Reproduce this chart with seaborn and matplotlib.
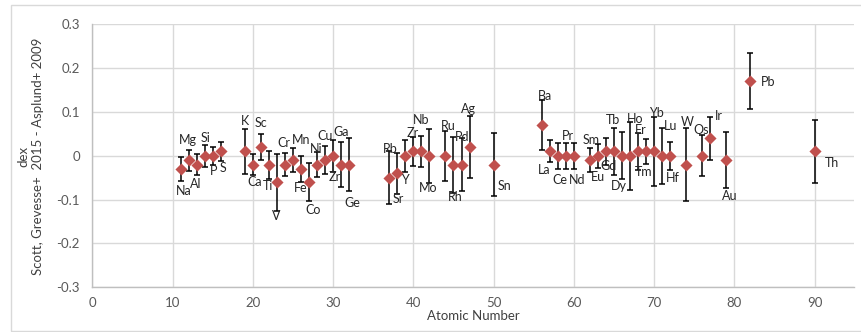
import matplotlib
matplotlib.use("Agg")
import matplotlib.pyplot as plt
import matplotlib.patches as mpatches
import seaborn as sns
import pandas as pd

# ---- data ----
elements = ["Na", "Mg", "Al", "Si", "P", "S", "K", "Ca", "Sc", "Ti", "V", "Cr", "Mn", "Fe", "Co",
            "Ni", "Cu", "Zr", "Ga", "Ge", "Rb", "Sr", "Y", "Zr", "Nb", "Mo", "Ru", "Rh", "Pd", "Ag",
            "Sn", "Ba", "La", "Ce", "Pr", "Nd", "Sm", "Eu", "Gd", "Tb", "Dy", "Ho", "Er", "Tm", "Yb",
            "Lu", "Hf", "W", "Os", "Ir", "Au", "Pb", "Th"]
atomic_number = [11, 12, 13, 14, 15, 16, 19, 20, 21, 22, 23, 24, 25, 26, 27,
                 28, 29, 30, 31, 32, 37, 38, 39, 40, 41, 42, 44, 45, 46, 47,
                 50, 56, 57, 58, 59, 60, 62, 63, 64, 65, 66, 67, 68, 69, 70,
                 71, 72, 74, 76, 77, 79, 82, 90]
difference = [-0.03, -0.01, -0.02, 0.00, 0.00, 0.01, 0.01, -0.02, 0.02, -0.02, -0.06, -0.02, -0.01, -0.03, -0.06,
              -0.02, -0.01, 0.00, -0.02, -0.02, -0.05, -0.04, 0.00, 0.01, 0.01, 0.00, 0.00, -0.02, -0.02, 0.02,
              -0.02, 0.07, 0.01, 0.00, 0.00, 0.00, -0.01, 0.00, 0.01, 0.01, 0.00, 0.00, 0.01, 0.01, 0.01,
              0.00, 0.00, -0.02, 0.00, 0.04, -0.01, 0.17, 0.01]
uncertainty = [0.027, 0.024, 0.024, 0.025, 0.021, 0.022, 0.051, 0.024, 0.029, 0.032, 0.065, 0.026, 0.028, 0.029, 0.044,
               0.029, 0.032, 0.036, 0.052, 0.061, 0.061, 0.047, 0.036, 0.034, 0.035, 0.061, 0.057, 0.064, 0.061, 0.071,
               0.071, 0.057, 0.025, 0.029, 0.029, 0.029, 0.028, 0.027, 0.030, 0.053, 0.054, 0.077, 0.042, 0.029, 0.079,
               0.064, 0.032, 0.083, 0.047, 0.049, 0.064, 0.064, 0.072]
x_ticks = [0, 10, 20, 30, 40, 50, 60, 70, 80, 90]
y_ticks = [-0.3, -0.2, -0.1, 0, 0.1, 0.2, 0.3]
y_tick_labels = ["-0.3", "-0.2", "-0.1", "0", "0.1", "0.2", "0.3"]

# label offsets (pixels, screen: dx right, dy down)
label_offsets = [(3, 22), (-1, -20), (-1, 19), (1, -18), (1, 15), (2, 17), (0, -30), (2, 17), (0, -24), (-1, 21),
                 (-1, 34), (-1, -22), (8, -20), (0, 19), (4, 28), (-1, -16), (0, -24), (2, 21), (0, -33), (3, 38),
                 (1, -29), (1, 26), (0, 24), (-1, -18), (0, -31), (-1, 32), (3, -30), (2, 32), (1, -28), (-1, -38),
                 (11, 21), (3, -29), (-6, 19), (2, 24), (2, -20), (3, 24), (1, -20), (0, 21), (3, 15), (-1, -31),
                 (-3, 30), (5, -37), (3, -21), (-2, 21), (2, -38), (8, -30), (3, 22), (1, -43), (-1, -26), (9, -22),
                 (3, 36), (18, 1), (17, 12)]

df = pd.DataFrame({"Z": atomic_number, "diff": difference, "err": uncertainty, "el": elements})

sns.set_theme(style="white")
plt.rcParams["font.family"] = ["Lato", "DejaVu Sans"]

fig = plt.figure(figsize=(8.61, 3.32), dpi=100)
ax = fig.add_axes([92.3 / 861, 1 - 287.3 / 332, (854 - 92.3) / 861, (287.3 - 24.3) / 332])

red = "#C0504D"
ax.errorbar(df["Z"], df["diff"], yerr=df["err"], fmt="none", ecolor="black",
            elinewidth=1.1, capsize=2.0, capthick=1.1, zorder=2)
sns.scatterplot(data=df, x="Z", y="diff", marker="D", s=38, color=red,
                edgecolor=red, linewidth=0, ax=ax, zorder=3)

for z, d, el, (dx, dy) in zip(atomic_number, difference, elements, label_offsets):
    ax.annotate(el, (z, d), xytext=(dx, -dy), textcoords="offset pixels",
                ha="center", va="center", fontsize=9, color="#262626", zorder=4)

ax.set_xlim(0, 94.9)
ax.set_ylim(-0.3, 0.3)
ax.set_xticks(x_ticks)
ax.set_yticks(y_ticks)
ax.set_yticklabels(y_tick_labels)
ax.grid(True, color="#D9D9D9", linewidth=1)
ax.set_axisbelow(True)
for s in ["top", "right"]:
    ax.spines[s].set_visible(False)
for s in ["left", "bottom"]:
    ax.spines[s].set_color("#BFBFBF")
    ax.spines[s].set_linewidth(1)
ax.tick_params(axis="both", length=0, labelsize=9.5, colors="#595959")
ax.tick_params(axis="x", pad=7)
ax.tick_params(axis="y", pad=9)
ax.set_xlabel("Atomic Number", fontsize=9.5, color="#404040", labelpad=1)
ax.set_ylabel("")
fig.text(31 / 861, 1 - 156 / 332, "dex\nScott, Grevesse+  2015 - Asplund+ 2009",
         rotation=90, ha="center", va="center", fontsize=9.5, color="#404040",
         multialignment="center", linespacing=1.25)

fig.patches.append(mpatches.Rectangle((11 / 861, 1 / 332), 1.5, 1 - 5.5 / 332,
                                      transform=fig.transFigure, fill=False,
                                      edgecolor="#D9D9D9", linewidth=1))

fig.savefig("out.png", dpi=100)
